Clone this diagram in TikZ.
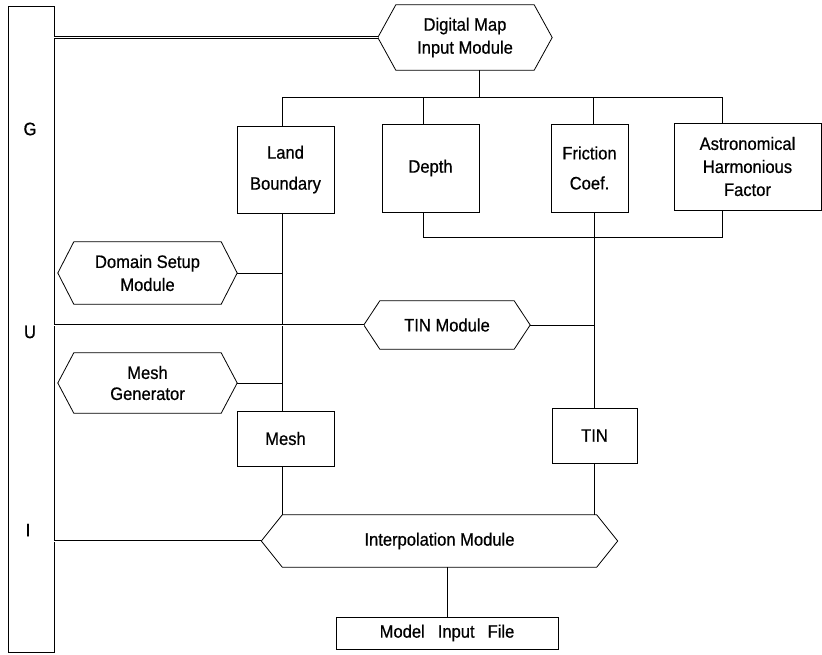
\documentclass[tikz,border=0pt]{standalone}
\usepackage{fontspec}
\setmainfont{Liberation Sans}[FakeStretch = 0.92, FakeBold = 0.6]
\usetikzlibrary{calc}

\begin{document}
\begin{tikzpicture}[x = 1pt, y = -1pt,
	every node/.style = {font = \fontsize{18}{23}\selectfont},
	box/.style = {draw, line width = 0.8pt, inner sep = 0pt, align = center},
	module/.style = {inner sep = 0pt, align = center},
	link/.style = {line width = 0.8pt},
	gui link/.style = {double, double distance = 1pt, line width = 0.7pt}
]
\useasboundingbox (0, 0) rectangle (822, 654);

% GUI column
\node[box, minimum width = 46pt, minimum height = 646pt] (gui) at (31, 329) {};
\node (g) at (30, 129) {G};
\node (u) at (30, 332) {U};
\node (i) at (28, 530) {I};

% modules, hexagon frames drawn by the loop below
\node[module, minimum width = 138pt, minimum height = 65pt] (digmap) at (465, 37.5) {Digital Map\\Input Module};
\node[module, minimum width = 147pt, minimum height = 62pt] (domain) at (147.5, 273) {Domain Setup\\Module};
\node[module, minimum width = 134pt, minimum height = 48pt] (tinmod) at (447, 325) {TIN Module};
\node[module, minimum width = 147pt, minimum height = 60pt] (meshgen) at (147.5, 383) {Mesh\\[-2pt]Generator};
\node[module, minimum width = 314pt, minimum height = 52pt] (interp) at (439.5, 541) {Interpolation Module};

\foreach \m/\d in {digmap/18, domain/16, tinmod/16, meshgen/16, interp/21}
	\draw[link] (\m.north west) -- (\m.north east) -- ([xshift = \d pt]\m.east) --
		(\m.south east) -- (\m.south west) -- ([xshift = -\d pt]\m.west) -- cycle;

% data
\node[box, minimum width = 97pt, minimum height = 87pt] (land) at (285.5, 169.5) {Land\\[8pt]Boundary};
\node[box, minimum width = 97pt, minimum height = 88pt] (depth) at (430.5, 168) {Depth};
\node[box, minimum width = 77pt, minimum height = 88pt] (fric) at (589.5, 168) {Friction\\[7pt]Coef.};
\node[box, minimum width = 147pt, minimum height = 87pt] (astro) at (747.5, 166.5) {Astronomical\\Harmonious\\Factor};
\node[box, minimum width = 97pt, minimum height = 55pt] (mesh) at (285.5, 438.5) {Mesh};
\node[box, minimum width = 85pt, minimum height = 55pt] (tin) at (594.5, 435.5) {TIN};
\node[box, minimum width = 222pt, minimum height = 32pt] (model) at (447, 633) {Model\hspace{13pt}Input\hspace{13pt}File};

\coordinate (top bus) at (282, 97);
\coordinate (low bus) at (423, 237);
\coordinate (mesh line) at (282, 0);

% map input feeds the four data boxes
\draw[link] ([xshift = 14pt]digmap.south) -- ([xshift = 14pt]digmap.south |- top bus);
\draw[link] (top bus) -- (722, 97);
\draw[link] (top bus) -- (top bus |- land.north);
\foreach \x/\n in {423/depth, 593/fric, 722/astro}
	\draw[link] (\x, 97) -- (\x, 0 |- \n.north);

% depth, friction and harmonics go to the TIN
\draw[link] (423, 0 |- depth.south) -- (low bus) -- (722, 237) -- (722, 0 |- astro.south);
\draw[link] (tin.north |- fric.south) -- (tin.north);
\draw[link] ([xshift = 16pt]tinmod.east) -- (tin.north |- tinmod.east);

% land boundary down to the mesh
\draw[link] (mesh line |- land.south) -- (mesh line |- mesh.north);
\draw[link] ([xshift = 16pt]domain.east) -- (mesh line |- domain.east);
\draw[link] ([xshift = 16pt]meshgen.east) -- (mesh line |- meshgen.east);

% into interpolation and out to the file
\draw[link] (mesh line |- mesh.south) -- (mesh line |- interp.north);
\draw[link] (tin.south) -- (tin.south |- interp.north);
\draw[link] (model.north |- interp.south) -- (model.north);

% GUI links
\draw[gui link] (gui.east |- digmap.west) -- ([xshift = -18pt]digmap.west);
\draw[gui link] (gui.east |- tinmod.west) -- ([xshift = -16pt]tinmod.west);
\draw[gui link] (gui.east |- interp.west) -- ([xshift = -21pt]interp.west);
\end{tikzpicture}
\end{document}
